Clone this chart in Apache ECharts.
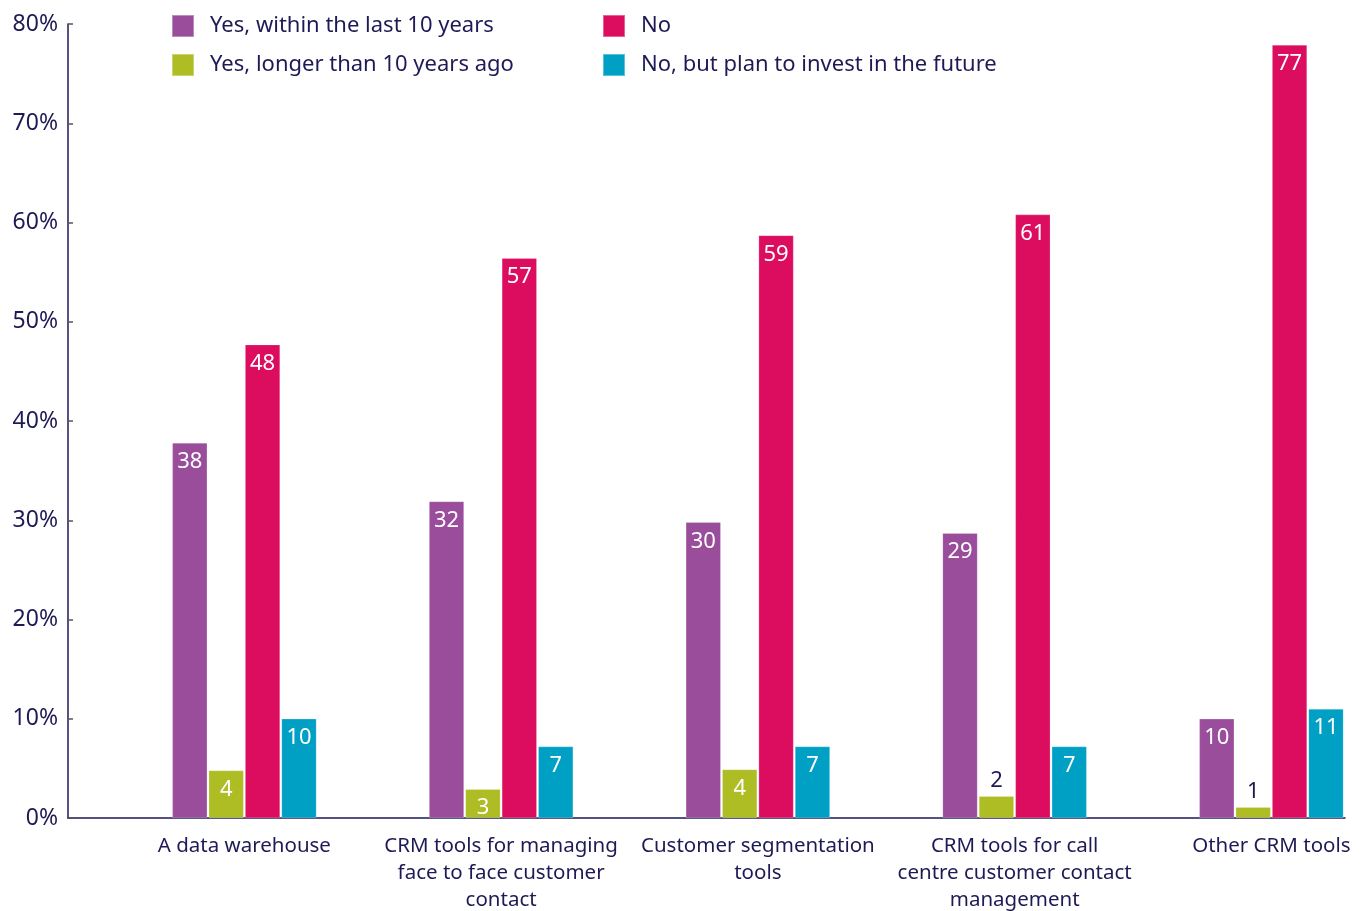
<!DOCTYPE html>
<html>
<head>
<meta charset="utf-8">
<script src="https://cdn.jsdelivr.net/npm/echarts@6/dist/echarts.min.js"></script>
<style>html,body{margin:0;padding:0;background:#fff}#c{width:1368px;height:911px}</style>
</head>
<body>
<div id="c"></div>
<script>
const categories = [
  "A data warehouse",
  "CRM tools for managing\nface to face customer\ncontact",
  "Customer segmentation\ntools",
  "CRM tools for call\ncentre customer contact\nmanagement",
  "Other CRM tools"
];
const seriesNames = [
  "Yes, within the last 10 years",
  "Yes, longer than 10 years ago",
  "No",
  "No, but plan to invest in the future"
];
const withinLast10 = [37.8, 31.9, 29.8, 28.7, 10.0];
const longerThan10 = [4.8, 2.9, 4.9, 2.2, 1.1];
const noValues = [47.7, 56.4, 58.7, 60.8, 77.9];
const planFuture = [10.0, 7.2, 7.2, 7.2, 11.0];
const withinLast10Labels = [38, 32, 30, 29, 10];
const longerThan10Labels = [4, 3, 4, 2, 1];
const noLabels = [48, 57, 59, 61, 77];
const planFutureLabels = [10, 7, 7, 7, 11];
const yTicks = [0, 10, 20, 30, 40, 50, 60, 70, 80];

const NAVY = '#1e1a55';
const FONT = 'Noto Sans';
const colors = ['#9a4d9b', '#afbd24', '#dc0c5e', '#00a0c4'];

function makeData(vals, labels) {
  return vals.map((v, i) => {
    const small = v < 2.5;
    return {
      value: v,
      label: {
        formatter: String(labels[i]),
        position: small ? 'top' : 'insideTop',
        distance: small ? 4 : 8,
        color: small ? NAVY : '#ffffff'
      }
    };
  });
}

const allVals = [withinLast10, longerThan10, noValues, planFuture];
const allLabels = [withinLast10Labels, longerThan10Labels, noLabels, planFutureLabels];

const legendText = { fontFamily: FONT, fontSize: 22, color: NAVY, padding: [0, 0, 0, 11], lineHeight: 22 };

const chart = echarts.init(document.getElementById('c'));
chart.setOption({
  animation: false,
  textStyle: { fontFamily: FONT },
  grid: [
    { left: 116, width: 1283.75, top: 24, bottom: 93, containLabel: false, outerBoundsMode: 'none' },
    { left: 68, right: 23, top: 24, bottom: 93, containLabel: false, outerBoundsMode: 'none' }
  ],
  legend: [
    {
      orient: 'vertical', left: 171, top: 14, padding: 0,
      itemWidth: 22, itemHeight: 22, itemGap: 15,
      icon: 'rect',
      data: [seriesNames[0], seriesNames[1]],
      textStyle: legendText
    },
    {
      orient: 'vertical', left: 602, top: 14, padding: 0,
      itemWidth: 22, itemHeight: 22, itemGap: 15,
      icon: 'rect',
      data: [seriesNames[2], seriesNames[3]],
      textStyle: legendText
    }
  ],
  xAxis: [
    {
      type: 'category', gridIndex: 0, data: categories,
      axisLine: { show: false }, axisTick: { show: false },
      axisLabel: { fontFamily: FONT, fontSize: 20.5, color: NAVY, margin: 15, lineHeight: 27, interval: 0 }
    },
    {
      type: 'value', gridIndex: 1, min: 0, max: 1,
      axisLine: { show: true, lineStyle: { color: NAVY, width: 1.5 } },
      axisTick: { show: false }, axisLabel: { show: false }, splitLine: { show: false }
    }
  ],
  yAxis: [
    {
      type: 'value', gridIndex: 0, min: 0, max: 80, interval: 10, offset: 48,
      axisLine: { show: true, lineStyle: { color: NAVY, width: 1.5 } },
      axisTick: { show: true, inside: true, length: 5, lineStyle: { color: '#555555', width: 1.5 } },
      splitLine: { show: false },
      axisLabel: { fontFamily: FONT, fontSize: 23, color: NAVY, margin: 10, padding: [5, 0, 0, 0],
        formatter: v => yTicks.includes(v) ? v + '%' : '' }
    },
    {
      type: 'value', gridIndex: 1, min: 0, max: 1, show: false
    }
  ],
  series: seriesNames.map((name, k) => ({
    name: name,
    type: 'bar',
    xAxisIndex: 0, yAxisIndex: 0,
    barWidth: 35,
    barGap: '4%',
    itemStyle: { color: colors[k], borderColor: 'rgba(255,255,255,0.35)', borderWidth: 0.6 },
    label: { show: true, fontFamily: FONT, fontSize: 22 },
    data: makeData(allVals[k], allLabels[k])
  }))
});
</script>
</body>
</html>
